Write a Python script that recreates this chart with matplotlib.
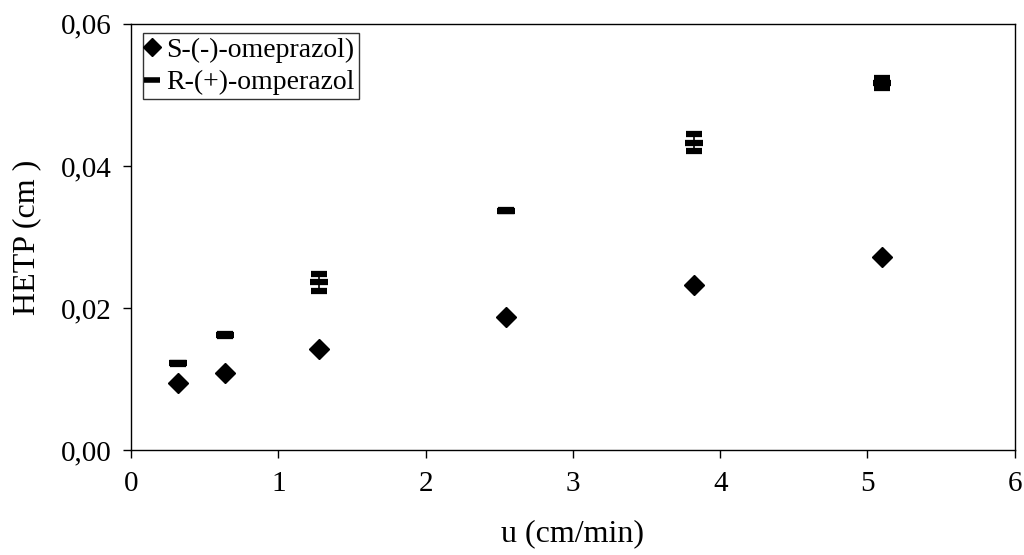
import matplotlib
matplotlib.use("Agg")
import matplotlib.pyplot as plt
from matplotlib.ticker import FuncFormatter
from matplotlib.lines import Line2D

u = [0.318, 0.637, 1.274, 2.548, 3.822, 5.096]
hetp_s = [0.0094, 0.0109, 0.0142, 0.0188, 0.0232, 0.0272]
err_s = [0.0002, 0.0002, 0.0003, 0.0002, 0.0002, 0.0002]
hetp_r = [0.0122, 0.0162, 0.0236, 0.0337, 0.0433, 0.0517]
err_r = [0.0001, 0.0002, 0.0012, 0.0001, 0.0012, 0.0007]
xticks = [0, 1, 2, 3, 4, 5, 6]
yticks = [0.00, 0.02, 0.04, 0.06]
labels = ['S-(-)-omeprazol)', 'R-(+)-omperazol']

plt.rcParams['font.family'] = ['Liberation Serif', 'DejaVu Serif']

fig = plt.figure(figsize=(10.24, 5.55), dpi=100)
ax = fig.add_axes([0.128, 0.189, 0.863, 0.768])

ax.errorbar(u, hetp_s, yerr=err_s, fmt='D', color='black', markersize=10,
            ecolor='black', elinewidth=1.0, capsize=5, capthick=1.0, zorder=3)
ax.errorbar(u, hetp_r, yerr=err_r, fmt='_', color='black', markersize=13,
            markeredgewidth=4.5, ecolor='black', elinewidth=1.2, capsize=6,
            capthick=1.2, zorder=3)

ax.set_xlim(0, 6)
ax.set_ylim(0, 0.06)
ax.set_xticks(xticks)
ax.set_yticks(yticks)
ax.yaxis.set_major_formatter(FuncFormatter(lambda v, p: f"{v:.2f}".replace('.', ',')))
ax.tick_params(axis='both', direction='out', length=6, width=1, labelsize=21,
               colors='black', pad=8)
ax.tick_params(axis='x', pad=9)
for s in ax.spines.values():
    s.set_linewidth(1)
    s.set_color('black')

ax.set_xlabel('u (cm/min)', fontsize=23, labelpad=16)
ax.set_ylabel('HETP (cm )', fontsize=23, labelpad=14)

handles = [Line2D([], [], marker='D', linestyle='none', color='black', markersize=9),
           Line2D([], [], marker='_', linestyle='none', color='black', markersize=12,
                  markeredgewidth=4)]
leg = ax.legend(handles, labels, loc='upper left', fontsize=20, frameon=True,
                fancybox=False, edgecolor='black', handlelength=0.4,
                handletextpad=0.3, borderpad=0.15, labelspacing=0.25,
                borderaxespad=0, bbox_to_anchor=(0.013, 0.978))
leg.get_frame().set_linewidth(1)

fig.savefig('out.png', dpi=100)
